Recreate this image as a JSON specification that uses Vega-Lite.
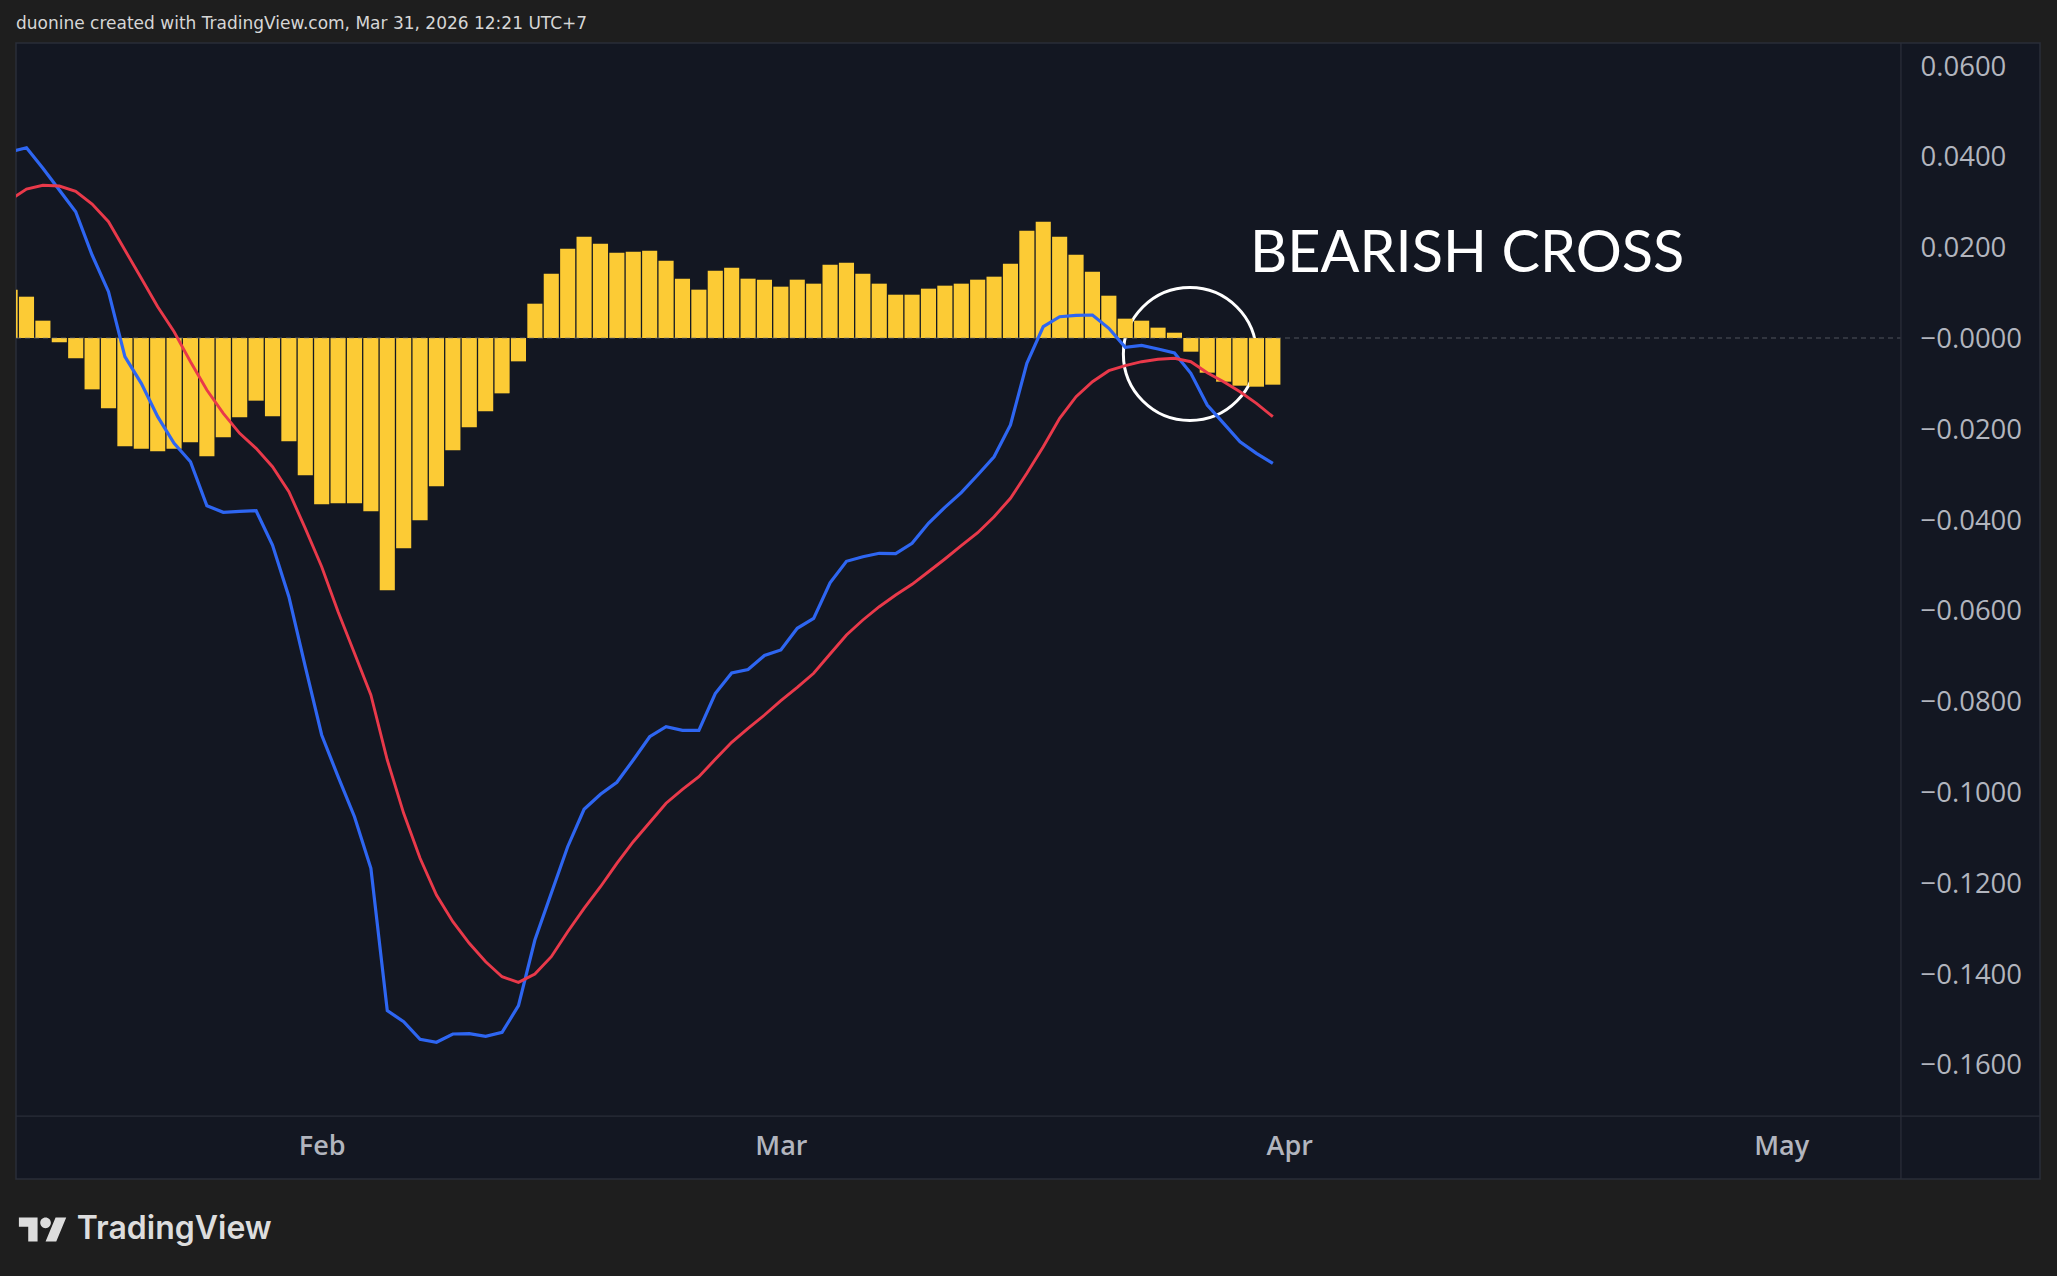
{
  "$schema": "https://vega.github.io/schema/vega-lite/v6.json",
  "width": 2024,
  "height": 1136,
  "autosize": {"type": "none"},
  "padding": {"left": 16, "top": 43, "right": 17, "bottom": 97},
  "background": "#1e1e1e",
  "view": {"fill": "#131722", "stroke": "#2a2e39", "strokeWidth": 1.5},
  "datasets": {
    "macd": [
      {"date":"2026-01-13","hist":0.01065,"macd":0.04097,"signal":0.0304},
      {"date":"2026-01-14","hist":0.0091,"macd":0.04192,"signal":0.03282},
      {"date":"2026-01-15","hist":0.00382,"macd":0.03738,"signal":0.03363},
      {"date":"2026-01-16","hist":-0.00095,"macd":0.0326,"signal":0.03348},
      {"date":"2026-01-17","hist":-0.00448,"macd":0.02782,"signal":0.03231},
      {"date":"2026-01-18","hist":-0.01131,"macd":0.01828,"signal":0.02952},
      {"date":"2026-01-19","hist":-0.01549,"macd":0.0102,"signal":0.02562},
      {"date":"2026-01-20","hist":-0.02386,"macd":-0.00412,"signal":0.01938},
      {"date":"2026-01-21","hist":-0.02438,"macd":-0.00998,"signal":0.01315},
      {"date":"2026-01-22","hist":-0.02496,"macd":-0.01733,"signal":0.00689},
      {"date":"2026-01-23","hist":-0.02438,"macd":-0.02319,"signal":0.00139},
      {"date":"2026-01-24","hist":-0.02298,"macd":-0.02725,"signal":-0.00522},
      {"date":"2026-01-25","hist":-0.02606,"macd":-0.03694,"signal":-0.01145},
      {"date":"2026-01-26","hist":-0.02188,"macd":-0.03839,"signal":-0.01659},
      {"date":"2026-01-27","hist":-0.01747,"macd":-0.03817,"signal":-0.02099},
      {"date":"2026-01-28","hist":-0.0138,"macd":-0.03804,"signal":-0.0243},
      {"date":"2026-01-29","hist":-0.01725,"macd":-0.04559,"signal":-0.02835},
      {"date":"2026-01-30","hist":-0.02276,"macd":-0.05698,"signal":-0.03385},
      {"date":"2026-01-31","hist":-0.03025,"macd":-0.0724,"signal":-0.04192},
      {"date":"2026-02-01","hist":-0.03664,"macd":-0.08744,"signal":-0.05037},
      {"date":"2026-02-02","hist":-0.03642,"macd":-0.09663,"signal":-0.06029},
      {"date":"2026-02-03","hist":-0.03642,"macd":-0.10544,"signal":-0.06945},
      {"date":"2026-02-04","hist":-0.03818,"macd":-0.11681,"signal":-0.07863},
      {"date":"2026-02-05","hist":-0.05558,"macd":-0.14817,"signal":-0.09295},
      {"date":"2026-02-06","hist":-0.04633,"macd":-0.15059,"signal":-0.10469},
      {"date":"2026-02-07","hist":-0.04016,"macd":-0.15447,"signal":-0.1146},
      {"date":"2026-02-08","hist":-0.03267,"macd":-0.15513,"signal":-0.12269},
      {"date":"2026-02-09","hist":-0.02474,"macd":-0.1533,"signal":-0.12857},
      {"date":"2026-02-10","hist":-0.01968,"macd":-0.15324,"signal":-0.13333},
      {"date":"2026-02-11","hist":-0.01615,"macd":-0.15381,"signal":-0.13738},
      {"date":"2026-02-12","hist":-0.01219,"macd":-0.15293,"signal":-0.14068},
      {"date":"2026-02-13","hist":-0.00514,"macd":-0.14707,"signal":-0.14192},
      {"date":"2026-02-14","hist":0.00756,"macd":-0.1326,"signal":-0.14009},
      {"date":"2026-02-15","hist":0.01417,"macd":-0.12231,"signal":-0.13628},
      {"date":"2026-02-16","hist":0.01968,"macd":-0.11205,"signal":-0.13077},
      {"date":"2026-02-17","hist":0.02232,"macd":-0.10381,"signal":-0.12562},
      {"date":"2026-02-18","hist":0.02078,"macd":-0.10051,"signal":-0.12086},
      {"date":"2026-02-19","hist":0.0188,"macd":-0.09786,"signal":-0.11571},
      {"date":"2026-02-20","hist":0.01902,"macd":-0.09295,"signal":-0.11095},
      {"date":"2026-02-21","hist":0.01924,"macd":-0.08782,"signal":-0.10672},
      {"date":"2026-02-22","hist":0.01703,"macd":-0.08562,"signal":-0.10247},
      {"date":"2026-02-23","hist":0.01307,"macd":-0.08641,"signal":-0.09941},
      {"date":"2026-02-24","hist":0.01065,"macd":-0.08641,"signal":-0.09663},
      {"date":"2026-02-25","hist":0.01483,"macd":-0.0783,"signal":-0.0928},
      {"date":"2026-02-26","hist":0.01549,"macd":-0.07379,"signal":-0.08905},
      {"date":"2026-02-27","hist":0.01307,"macd":-0.07302,"signal":-0.08597},
      {"date":"2026-02-28","hist":0.01285,"macd":-0.06993,"signal":-0.08304},
      {"date":"2026-03-01","hist":0.01131,"macd":-0.06872,"signal":-0.07989},
      {"date":"2026-03-02","hist":0.01285,"macd":-0.06394,"signal":-0.07694},
      {"date":"2026-03-03","hist":0.01197,"macd":-0.06174,"signal":-0.07385},
      {"date":"2026-03-04","hist":0.01615,"macd":-0.0539,"signal":-0.0696},
      {"date":"2026-03-05","hist":0.01659,"macd":-0.04919,"signal":-0.06542},
      {"date":"2026-03-06","hist":0.01417,"macd":-0.04817,"signal":-0.06211},
      {"date":"2026-03-07","hist":0.01197,"macd":-0.04742,"signal":-0.05919},
      {"date":"2026-03-08","hist":0.00954,"macd":-0.04751,"signal":-0.05661},
      {"date":"2026-03-09","hist":0.00954,"macd":-0.04522,"signal":-0.05425},
      {"date":"2026-03-10","hist":0.01087,"macd":-0.04081,"signal":-0.05148},
      {"date":"2026-03-11","hist":0.01153,"macd":-0.03729,"signal":-0.04868},
      {"date":"2026-03-12","hist":0.01197,"macd":-0.03407,"signal":-0.04575},
      {"date":"2026-03-13","hist":0.01285,"macd":-0.03018,"signal":-0.04289},
      {"date":"2026-03-14","hist":0.01351,"macd":-0.02615,"signal":-0.03936},
      {"date":"2026-03-15","hist":0.01637,"macd":-0.01916,"signal":-0.03531},
      {"date":"2026-03-16","hist":0.02364,"macd":-0.00557,"signal":-0.0298},
      {"date":"2026-03-17","hist":0.02562,"macd":0.00249,"signal":-0.02394},
      {"date":"2026-03-18","hist":0.02232,"macd":0.00469,"signal":-0.01769},
      {"date":"2026-03-19","hist":0.01836,"macd":0.005,"signal":-0.01293},
      {"date":"2026-03-20","hist":0.01461,"macd":0.00507,"signal":-0.00963},
      {"date":"2026-03-21","hist":0.00932,"macd":0.00214,"signal":-0.0072},
      {"date":"2026-03-22","hist":0.00426,"macd":-0.00205,"signal":-0.0061},
      {"date":"2026-03-23","hist":0.00382,"macd":-0.00161,"signal":-0.00522},
      {"date":"2026-03-24","hist":0.00228,"macd":-0.00242,"signal":-0.00469},
      {"date":"2026-03-25","hist":0.00117,"macd":-0.0033,"signal":-0.00447},
      {"date":"2026-03-26","hist":-0.00301,"macd":-0.00778,"signal":-0.00522},
      {"date":"2026-03-27","hist":-0.00764,"macd":-0.01476,"signal":-0.00764},
      {"date":"2026-03-28","hist":-0.00962,"macd":-0.01879,"signal":-0.00963},
      {"date":"2026-03-29","hist":-0.0105,"macd":-0.02284,"signal":-0.01183},
      {"date":"2026-03-30","hist":-0.01072,"macd":-0.0254,"signal":-0.01438},
      {"date":"2026-03-31","hist":-0.01028,"macd":-0.0276,"signal":-0.01733}
    ]
  },
  "layer": [
    {
      "data": {"values": [{"date": "2026-03-25T22:34:00Z", "value": -0.00352}]},
      "mark": {"type": "point", "shape": "circle", "size": 17689, "filled": false, "stroke": "#ffffff", "strokeWidth": 3, "opacity": 1},
      "encoding": {
        "x": {
          "field": "date",
          "type": "temporal",
          "title": null,
          "scale": {
            "type": "utc",
            "padding": 0,
            "domain": [
              {"year": 2026, "month": 1, "date": 13, "hours": 8, "minutes": 38, "utc": true},
              {"year": 2026, "month": 5, "date": 16, "hours": 18, "minutes": 43, "utc": true}
            ]
          },
          "axis": {
            "orient": "bottom",
            "offset": -63,
            "values": [
              {"year": 2026, "month": 2, "date": 1, "utc": true},
              {"year": 2026, "month": 3, "date": 1, "utc": true},
              {"year": 2026, "month": 4, "date": 1, "utc": true},
              {"year": 2026, "month": 5, "date": 1, "utc": true}
            ],
            "format": "%b",
            "grid": false,
            "domain": false,
            "ticks": false,
            "tickSize": 0,
            "labelFont": "Open Sans",
            "labelFontSize": 27,
            "labelFontWeight": 600,
            "labelColor": "#b2b5be",
            "labelBaseline": "middle",
            "labelPadding": 30,
            "labelFlush": false,
            "labelOverlap": false
          }
        },
        "y": {
          "field": "value",
          "type": "quantitative",
          "title": null,
          "scale": {"domain": [-0.18524, 0.06498], "nice": false, "zero": false},
          "axis": {
            "orient": "right",
            "offset": -139,
            "values": [0.06, 0.04, 0.02, 0, -0.02, -0.04, -0.06, -0.08, -0.1, -0.12, -0.14, -0.16],
            "labelExpr": "datum.value === 0 ? '−0.0000' : format(datum.value, '.4f')",
            "grid": false,
            "domain": false,
            "ticks": false,
            "tickSize": 0,
            "labelFont": "Open Sans",
            "labelFontSize": 27.5,
            "labelColor": "#b2b5be",
            "labelAlign": "left",
            "labelPadding": 19,
            "labelOffset": 1.5,
            "labelOverlap": false
          }
        }
      }
    },
    {
      "data": {"name": "macd"},
      "mark": {"type": "bar", "width": 15.1, "color": "#fccb35", "clip": true},
      "encoding": {
        "x": {"field": "date", "type": "temporal", "title": null},
        "y": {"field": "hist", "type": "quantitative", "title": null}
      }
    },
    {
      "data": {"values": [{"date": "2026-01-13T08:38:00Z", "end": "2026-05-08T07:12:00Z", "value": 0}]},
      "mark": {"type": "rule", "color": "#787b86", "opacity": 0.6, "strokeWidth": 1, "strokeDash": [5, 4]},
      "encoding": {
        "x": {"field": "date", "type": "temporal", "title": null},
        "x2": {"field": "end"},
        "y": {"field": "value", "type": "quantitative", "title": null}
      }
    },
    {
      "data": {"name": "macd"},
      "mark": {"type": "line", "color": "#2e66f2", "strokeWidth": 3.2, "clip": true},
      "encoding": {
        "x": {"field": "date", "type": "temporal", "title": null},
        "y": {"field": "macd", "type": "quantitative", "title": null}
      }
    },
    {
      "data": {"name": "macd"},
      "mark": {"type": "line", "color": "#e9394a", "strokeWidth": 2.9, "clip": true},
      "encoding": {
        "x": {"field": "date", "type": "temporal", "title": null},
        "y": {"field": "signal", "type": "quantitative", "title": null}
      }
    },
    {
      "data": {"values": [{"date": "2026-05-08T07:12:00Z"}]},
      "mark": {"type": "rule", "color": "#2a2e39", "strokeWidth": 1.3},
      "encoding": {"x": {"field": "date", "type": "temporal", "title": null}}
    },
    {
      "data": {"values": [{"date": "2026-01-13T08:38:00Z", "end": "2026-05-16T18:43:00Z", "value": -0.17137}]},
      "mark": {"type": "rule", "color": "#2a2e39", "strokeWidth": 1.3},
      "encoding": {
        "x": {"field": "date", "type": "temporal", "title": null},
        "x2": {"field": "end"},
        "y": {"field": "value", "type": "quantitative", "title": null}
      }
    },
    {
      "data": {"values": [{"date": "2026-03-29T14:30:00Z", "value": 0.01826, "label": "BEARISH CROSS"}]},
      "mark": {"type": "text", "align": "left", "baseline": "middle", "font": "Lato", "fontSize": 57.6, "color": "#ffffff"},
      "encoding": {
        "x": {"field": "date", "type": "temporal", "title": null},
        "y": {"field": "value", "type": "quantitative", "title": null},
        "text": {"field": "label"}
      }
    },
    {
      "data": {"values": [{"date": "2026-01-13T08:38:00Z", "value": 0.06916, "label": "duonine created with TradingView.com, Mar 31, 2026 12:21 UTC+7"}]},
      "mark": {"type": "text", "align": "left", "baseline": "middle", "font": "DejaVu Sans", "fontSize": 17, "color": "#d6d6d6"},
      "encoding": {
        "x": {"field": "date", "type": "temporal", "title": null},
        "y": {"field": "value", "type": "quantitative", "title": null},
        "text": {"field": "label"}
      }
    },
    {
      "data": {"values": [{"date": "2026-01-17T01:30:00Z", "value": -0.19636, "label": "TradingView"}]},
      "mark": {"type": "text", "align": "left", "baseline": "middle", "font": "Inter", "fontSize": 32, "fontWeight": 600, "color": "#dddddd"},
      "encoding": {
        "x": {"field": "date", "type": "temporal", "title": null},
        "y": {"field": "value", "type": "quantitative", "title": null},
        "text": {"field": "label"}
      }
    },
    {
      "data": {"values": [{"date": "2026-01-15T00:00:00Z", "value": -0.19636}]},
      "mark": {
        "type": "point",
        "filled": true,
        "opacity": 1,
        "color": "#dddddd",
        "size": 2304,
        "shape": "M-0.222 0.5H-0.611V-0.111H-1V-0.5H-0.222ZM0.556 0.5H0.111L0.528 -0.5H0.972ZM0.333 -0.278A0.222 0.222 0 1 1 -0.111 -0.278A0.222 0.222 0 1 1 0.333 -0.278Z"
      },
      "encoding": {
        "x": {"field": "date", "type": "temporal", "title": null},
        "y": {"field": "value", "type": "quantitative", "title": null}
      }
    }
  ]
}
